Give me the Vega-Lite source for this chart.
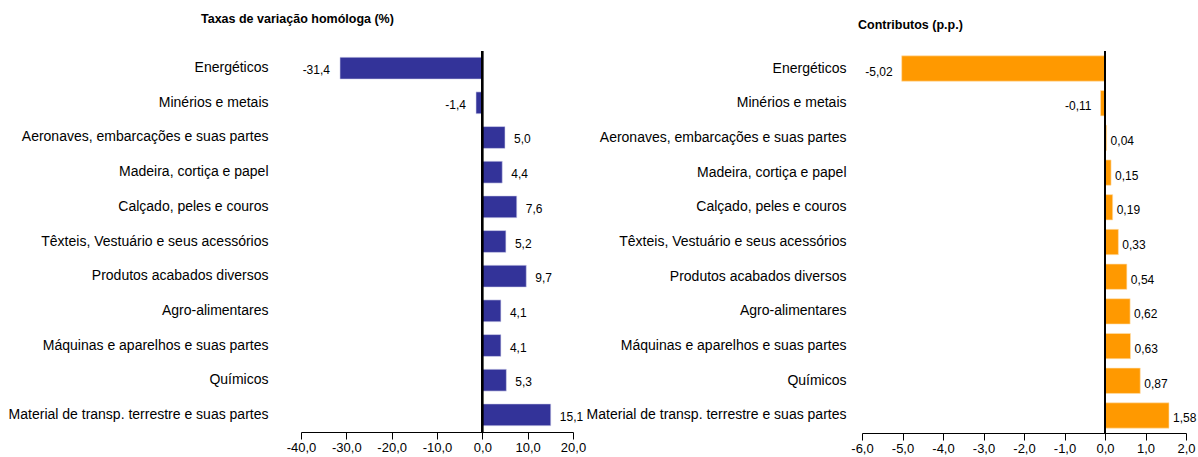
{
  "$schema": "https://vega.github.io/schema/vega-lite/v6.json",
  "padding": {"left": 8, "top": 12, "right": 0, "bottom": 0},
  "background": "white",
  "spacing": 0,
  "config": {
    "locale": {"number": {"decimal": ",", "thousands": ".", "grouping": [3], "currency": ["", " €"], "minus": "-"}},
    "font": "Liberation Sans",
    "view": {"stroke": null},
    "axisY": {"title": null, "ticks": false, "domain": false, "labelFontSize": 14, "labelColor": "black", "labelLimit": 400},
    "axisX": {"title": null, "grid": false, "domainColor": "black", "tickColor": "black", "tickSize": 7, "labelFontSize": 13, "labelColor": "black", "labelPadding": 2, "format": ".1f", "labelFlush": false, "labelOverlap": false},
    "title": {"fontSize": 12.5, "fontWeight": "bold", "color": "black", "anchor": "start", "frame": "group"}
  },
  "data": {"values": [
    {"categoria": "Energéticos", "taxa": -31.4, "contributo": -5.02},
    {"categoria": "Minérios e metais", "taxa": -1.4, "contributo": -0.11},
    {"categoria": "Aeronaves, embarcações e suas partes", "taxa": 5.0, "contributo": 0.04},
    {"categoria": "Madeira, cortiça e papel", "taxa": 4.4, "contributo": 0.15},
    {"categoria": "Calçado, peles e couros", "taxa": 7.6, "contributo": 0.19},
    {"categoria": "Têxteis, Vestuário e seus acessórios", "taxa": 5.2, "contributo": 0.33},
    {"categoria": "Produtos acabados diversos", "taxa": 9.7, "contributo": 0.54},
    {"categoria": "Agro-alimentares", "taxa": 4.1, "contributo": 0.62},
    {"categoria": "Máquinas e aparelhos e suas partes", "taxa": 4.1, "contributo": 0.63},
    {"categoria": "Químicos", "taxa": 5.3, "contributo": 0.87},
    {"categoria": "Material de transp. terrestre e suas partes", "taxa": 15.1, "contributo": 1.58}
  ]},
  "hconcat": [
    {
      "width": 272,
      "height": 381,
      "title": {"text": "Taxas de variação homóloga (%)", "dx": -100, "offset": 25},
      "encoding": {
        "y": {"field": "categoria", "type": "nominal", "sort": null, "scale": {"paddingInner": 0.37, "paddingOuter": 0.18}, "axis": {"labelPadding": 33}}
      },
      "layer": [
        {"mark": {"type": "bar", "color": "#333399", "stroke": "#d6d6ee", "strokeWidth": 0.6},
         "encoding": {"x": {"field": "taxa", "type": "quantitative", "scale": {"domain": [-40, 20], "nice": false, "zero": false}, "axis": {"values": [-40, -30, -20, -10, 0, 10, 20]}}}},
        {"mark": {"type": "rule", "color": "black", "strokeWidth": 1.5},
         "encoding": {"x": {"datum": 0}, "y": null}},
        {"transform": [{"filter": "datum.taxa >= 0"}],
         "mark": {"type": "text", "align": "left", "dx": 9, "dy": 2, "fontSize": 12, "color": "black"},
         "encoding": {"x": {"field": "taxa", "type": "quantitative"}, "text": {"field": "taxa", "type": "quantitative", "format": ".1f"}}},
        {"transform": [{"filter": "datum.taxa < 0"}],
         "mark": {"type": "text", "align": "right", "dx": -10, "dy": 2, "fontSize": 12, "color": "black"},
         "encoding": {"x": {"field": "taxa", "type": "quantitative"}, "text": {"field": "taxa", "type": "quantitative", "format": ".1f"}}}
      ]
    },
    {
      "width": 324,
      "height": 382,
      "title": {"text": "Contributos (p.p.)", "dx": -4, "offset": 19},
      "encoding": {
        "y": {"field": "categoria", "type": "nominal", "sort": null, "scale": {"paddingInner": 0.27, "paddingOuter": 0.14}, "axis": {"labelPadding": 16}}
      },
      "layer": [
        {"mark": {"type": "bar", "color": "#FF9900", "stroke": "#ffe0b0", "strokeWidth": 0.6},
         "encoding": {"x": {"field": "contributo", "type": "quantitative", "scale": {"domain": [-6, 2], "nice": false, "zero": false}, "axis": {"values": [-6, -5, -4, -3, -2, -1, 0, 1, 2]}}}},
        {"mark": {"type": "rule", "color": "black", "strokeWidth": 1.5},
         "encoding": {"x": {"datum": 0}, "y": null}},
        {"transform": [{"filter": "datum.contributo >= 0"}],
         "mark": {"type": "text", "align": "left", "dx": 4, "dy": 3, "fontSize": 12, "color": "black"},
         "encoding": {"x": {"field": "contributo", "type": "quantitative"}, "text": {"field": "contributo", "type": "quantitative", "format": ".2f"}}},
        {"transform": [{"filter": "datum.contributo < 0"}],
         "mark": {"type": "text", "align": "right", "dx": -9, "dy": 3, "fontSize": 12, "color": "black"},
         "encoding": {"x": {"field": "contributo", "type": "quantitative"}, "text": {"field": "contributo", "type": "quantitative", "format": ".2f"}}}
      ]
    }
  ]
}
